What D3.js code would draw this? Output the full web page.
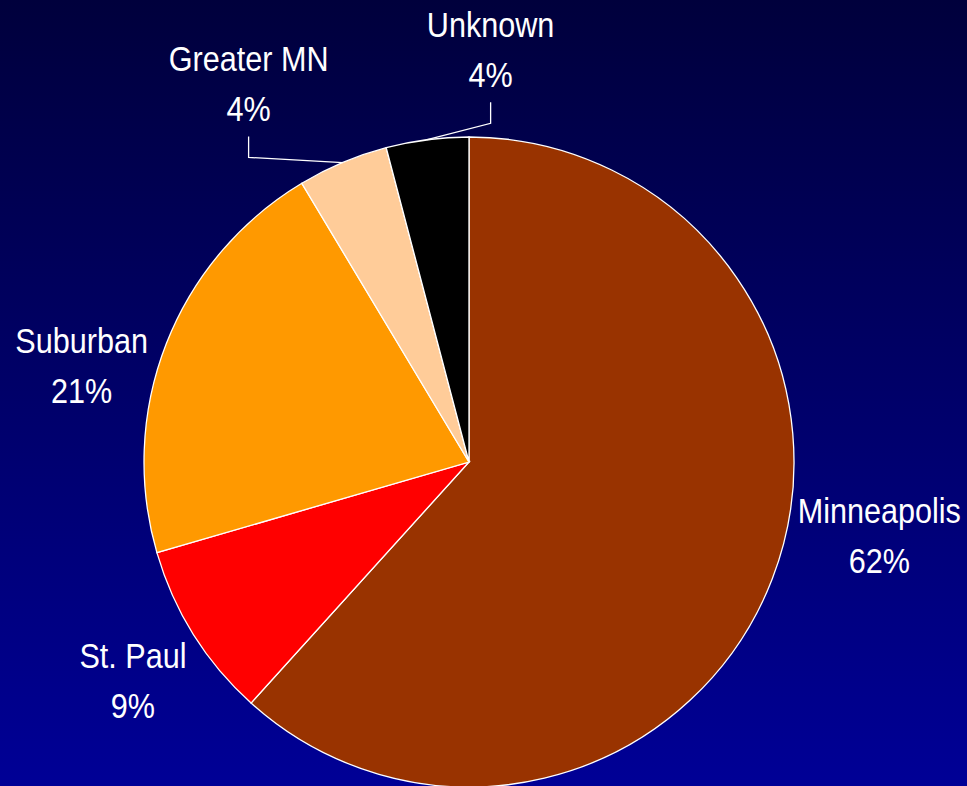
<!DOCTYPE html>
<html>
<head>
<meta charset="utf-8">
<script src="https://cdn.jsdelivr.net/npm/d3@7"></script>
<style>
  html, body { margin: 0; padding: 0; overflow: hidden; }
  svg { display: block; }
  .lbl { font-family: "Liberation Sans Narrow", "Arial Narrow", "Liberation Sans", Arial, sans-serif; font-size: 36px; fill: #fff; }
</style>
</head>
<body>
<svg width="967" height="786"></svg>
<script>
// share of clients by place of residence
const regions = ["Minneapolis", "St. Paul", "Suburban", "Greater MN", "Unknown"]
const shares = [61.7, 8.8, 20.9, 4.5, 4.1]
const shareLabels = ["62%", "9%", "21%", "4%", "4%"]
const sliceColors = ["#993300", "#ff0000", "#ff9900", "#ffcc99", "#000000"]

const width = 967, height = 786
const cx = 469, cy = 462, radius = 325
const labelR = 400
// no narrow face installed, so squeeze the regular one
const squeeze = 0.85

// hand placement of labels (like dragging them around in the slide)
const nudge = {
  "Minneapolis": [37, -71],
  "St. Paul": [3, 6],
  "Suburban": [-15, 49],
  "Greater MN": [-65, -10],
  "Unknown": [73, -16]
}
const withLeader = ["Greater MN", "Unknown"]

const data = regions.map((r, i) => ({region: r, value: shares[i], label: shareLabels[i], color: sliceColors[i]}))

const svg = d3.select('svg')

const defs = svg.append('defs')
const grad = defs.append('linearGradient')
  .attr('id', 'bg')
  .attr('x1', 0).attr('y1', 0).attr('x2', 0).attr('y2', 1)
grad.append('stop').attr('offset', '0%').attr('stop-color', '#00003c')
grad.append('stop').attr('offset', '100%').attr('stop-color', '#000096')

svg.append('rect')
  .attr('width', width)
  .attr('height', height)
  .attr('fill', 'url(#bg)')

const pie = d3.pie().sort(null).value(d => d.value)
const arcs = pie(data)

const arc = d3.arc().innerRadius(0).outerRadius(radius)
const edgeArc = d3.arc().innerRadius(radius).outerRadius(radius)
const labelArc = d3.arc().innerRadius(labelR).outerRadius(labelR)

const g = svg.append('g').attr('transform', `translate(${cx},${cy})`)

g.selectAll('path.slice')
  .data(arcs)
  .join('path')
  .attr('class', 'slice')
  .attr('d', arc)
  .attr('fill', d => d.data.color)
  .attr('stroke', '#fff')
  .attr('stroke-width', 1.3)

// label anchor = centroid on the label ring + nudge
const labelPos = d => {
  const c = labelArc.centroid(d)
  const n = nudge[d.data.region] || [0, 0]
  return [c[0] + n[0], c[1] + n[1]]
}

// leader lines for the two thin slices
g.selectAll('polyline.leader')
  .data(arcs.filter(d => withLeader.includes(d.data.region)))
  .join('polyline')
  .attr('class', 'leader')
  .attr('fill', 'none')
  .attr('stroke', '#fff')
  .attr('stroke-width', 1.3)
  .attr('points', d => {
    const p = labelPos(d)
    const y1 = p[1] - 12
    const e = edgeArc.centroid(d)
    return [[p[0], y1 + 65], [p[0], y1 + 86], e].map(q => q.join(',')).join(' ')
  })

const labels = g.selectAll('text.lbl')
  .data(arcs)
  .join('text')
  .attr('class', 'lbl')
  .attr('text-anchor', 'middle')
  .attr('transform', d => {
    const p = labelPos(d)
    return `translate(${p[0]},${p[1]}) scale(${squeeze},1)`
  })

labels.append('tspan')
  .attr('x', 0)
  .attr('y', -12)
  .text(d => d.data.region)

labels.append('tspan')
  .attr('x', 0)
  .attr('y', 38)
  .text(d => d.data.label)
</script>
</body>
</html>
